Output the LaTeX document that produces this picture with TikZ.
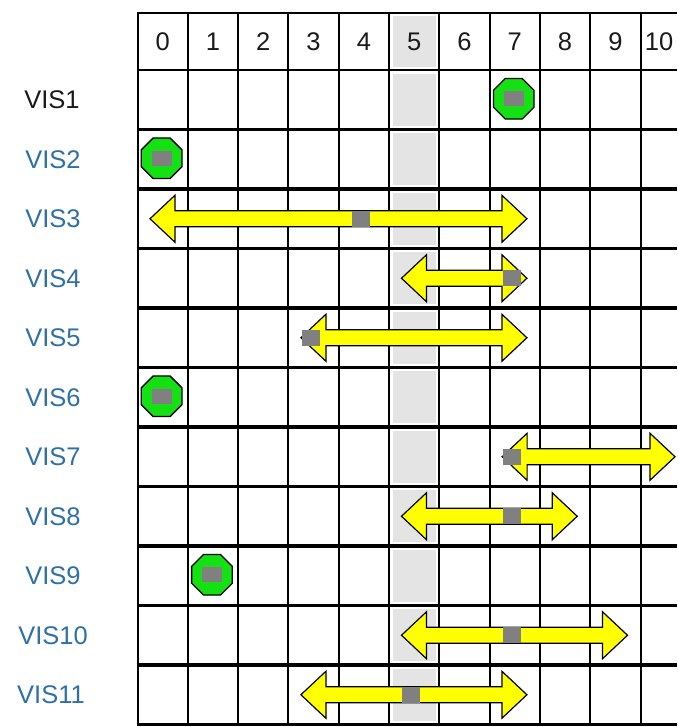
\documentclass[tikz,border=0pt]{standalone}
\usepackage{fontspec}
\setmainfont{Liberation Sans}
\usetikzlibrary{shapes.geometric}
\definecolor{lblblue}{HTML}{2E70A8}
\definecolor{lbldark}{HTML}{1A1A1A}
\definecolor{octgreen}{HTML}{14E014}
\definecolor{arrowyellow}{HTML}{FFFF00}
\definecolor{markgray}{HTML}{808080}
\definecolor{shadegray}{HTML}{E4E4E4}
\tikzset{
  hline/.style={line width=3.3pt, black},
  hthin/.style={line width=2.4pt, black},
  vline/.style={line width=2pt, black},
  arrowshape/.style={fill=arrowyellow, draw=black, line width=1.2pt, line join=miter},
  marker/.style={fill=markgray, inner sep=0pt, minimum width=18pt, minimum height=16pt},
  octmark/.style={fill=markgray, inner sep=0pt, minimum width=20pt, minimum height=15pt},
  octa/.style={regular polygon, regular polygon sides=8, minimum size=44pt, inner sep=0pt,
    fill=octgreen, draw=black, line width=1.3pt},
  rowlabel/.style={font=\fontsize{25.5}{30}\selectfont, text=lblblue, inner sep=0pt},
  collabel/.style={font=\fontsize{25.5}{30}\selectfont, text=lbldark, inner sep=0pt}
}
\newcommand\spanarrow[5]{% name, row, colA, colB, markercol
  \pgfmathsetmacro\myYc{70+59.5*(#2-0.5)}
  \pgfmathsetmacro\myXl{137.5+50.3*#3+12.5}
  \pgfmathsetmacro\myXr{min(675,137.5+50.3*(#4+1)-13)}
  \pgfmathsetmacro\myXm{137.5+50.3*(#5+0.5)-3}
  \draw[arrowshape] (\myXl,\myYc) -- (\myXl+25,\myYc-23.5) -- (\myXl+25,\myYc-8)
    -- (\myXr-25,\myYc-8) -- (\myXr-25,\myYc-23.5) -- (\myXr,\myYc)
    -- (\myXr-25,\myYc+23.5) -- (\myXr-25,\myYc+8) -- (\myXl+25,\myYc+8)
    -- (\myXl+25,\myYc+23.5) -- cycle;
  \node[marker] (#1) at (\myXm,\myYc) {};
}
\newcommand\octitem[4]{% name, row, col
  \pgfmathsetmacro\myYc{70+59.5*(#2-0.5)-1}
  \pgfmathsetmacro\myXm{137.5+50.3*(#3+0.5)-1}
  \node[octa] (#1) at (\myXm,\myYc) {};
  \node[octmark] (#1m) at (#1) {};
}
\begin{document}
\begin{tikzpicture}[x=1pt,y=-1pt]
\useasboundingbox (0,0) rectangle (677,727);
\fill[white] (0,0) rectangle (677,727);
\begin{scope}
\clip (0,0) rectangle (677,727);
% shaded column 5
\fill[shadegray] (392.5,16.5) rectangle (436,67);
\foreach \r in {1,...,11}{
  \fill[shadegray] (392.5,{70+59.5*(\r-1)+3.8}) rectangle (436,{70+59.5*\r-3.8});
}
% grid
\draw[hthin] (136.5,13) -- (677,13);
\draw[hthin] (136.5,70) -- (677,70);
\foreach \r in {1,...,11}{
  \draw[hline] (136.5,{70+59.5*\r}) -- (677,{70+59.5*\r});
}
\foreach \k in {0,...,10}{
  \draw[vline] ({137.5+50.3*\k},12) -- ({137.5+50.3*\k},726);
}
% column headers
\foreach \k in {0,...,9}{
  \node[collabel] (c\k) at ({137.5+50.3*(\k+0.5)},42) {\k};
}
\node[collabel] (c10) at (659,42) {10};
% row labels
\node[rowlabel, text=lbldark] (v1) at (52,99.5) {VIS1};
\foreach \r in {2,...,9}{
  \node[rowlabel] (v\r) at (53,{70+59.5*(\r-0.5)}) {VIS\r};
}
\node[rowlabel] (v10) at (53,{70+59.5*9.5}) {VIS10};
\node[rowlabel] (v11) at (51,{70+59.5*10.5}) {VIS11};
% items
\octitem{o1}{1}{7}{}
\octitem{o2}{2}{0}{}
\spanarrow{m3}{3}{0}{7}{4}
\spanarrow{m4}{4}{5}{7}{7}
\spanarrow{m5}{5}{3}{7}{3}
\octitem{o6}{6}{0}{}
\spanarrow{m7}{7}{7}{10}{7}
\spanarrow{m8}{8}{5}{8}{7}
\octitem{o9}{9}{1}{}
\spanarrow{m10}{10}{5}{9}{7}
\spanarrow{m11}{11}{3}{7}{5}
\end{scope}
\end{tikzpicture}
\end{document}
